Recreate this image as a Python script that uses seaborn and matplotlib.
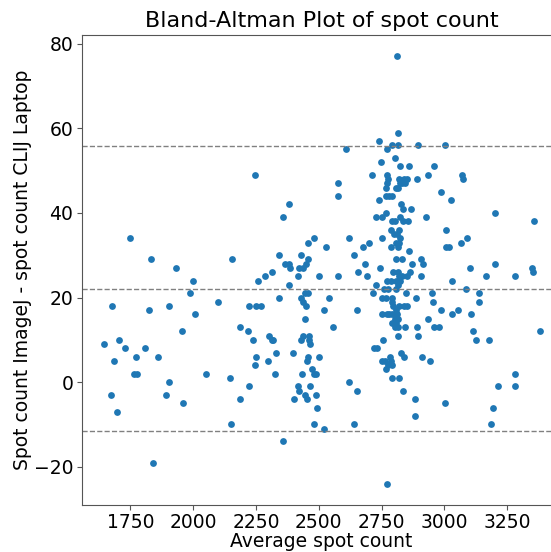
import numpy as np
import pandas as pd
import matplotlib
matplotlib.use('Agg')
from matplotlib import pyplot as plt
import seaborn as sns

# average spot count (x) and difference ImageJ - CLIJ (y)
avg_count = [
    1643, 1678, 1686, 1671, 1697, 1706, 1727, 1748, 1766, 1776, 1772, 1807,
    1826, 1831, 1838, 1859, 1893, 1903, 1903, 1933, 1955, 1958, 1986, 2001,
    2007, 2050, 2097, 2145, 2152, 2155, 2188, 2188,
    2219, 2222, 2222, 2238, 2247, 2247, 2251, 2251, 2259, 2268, 2284, 2299,
    2300, 2312, 2312, 2319, 2324, 2330, 2340, 2340, 2357, 2357, 2365, 2382,
    2382, 2383, 2386, 2398, 2400, 2419, 2419, 2420, 2423, 2431, 2431, 2431,
    2435, 2436, 2436, 2436, 2444, 2445, 2445, 2449, 2449, 2453, 2453, 2457,
    2457, 2458, 2458, 2462, 2462, 2465, 2465, 2471, 2479, 2480, 2481, 2489,
    2489, 2491, 2499, 2502, 2519, 2522, 2530, 2542,
    2555, 2576, 2576, 2578, 2610, 2621, 2621, 2640, 2642, 2653, 2653, 2658,
    2678, 2684, 2693,
    2701, 2711, 2716, 2720, 2727, 2727, 2731, 2740, 2741, 2742, 2749, 2752,
    2753, 2753, 2753, 2753, 2757, 2760, 2763, 2766, 2766, 2766, 2766, 2769,
    2771, 2773, 2773, 2773, 2773, 2773, 2777, 2777, 2777, 2779, 2779, 2783,
    2786, 2786, 2787, 2788, 2790, 2790, 2790, 2790, 2790, 2792, 2793, 2793,
    2793, 2795, 2795, 2799, 2802, 2802, 2803, 2804, 2806, 2806, 2806, 2806,
    2806, 2806, 2809, 2810, 2811, 2812, 2814, 2814, 2815, 2815, 2815, 2816,
    2816, 2816, 2816, 2819, 2819, 2819, 2819, 2819, 2819, 2822, 2822, 2822,
    2822, 2825, 2826, 2828, 2830, 2830, 2832, 2835, 2835, 2836, 2839, 2839,
    2839, 2843, 2845, 2849, 2850, 2852, 2852, 2856, 2859, 2862, 2861, 2869,
    2872, 2885, 2885, 2889, 2892, 2893, 2896, 2896,
    2905, 2907, 2910, 2914, 2926, 2933, 2934, 2944, 2949, 2955, 2958, 2958,
    2980, 2988, 2988, 3001, 3003, 3006, 3006, 3020, 3028, 3030, 3032, 3053,
    3065, 3072, 3076, 3087, 3091, 3103, 3105, 3113, 3124, 3136, 3136, 3164,
    3179, 3186, 3193, 3200, 3203, 3215, 3281, 3281, 3281, 3347, 3351, 3355,
    3380,
]
diff_count = [
    9, 18, 5, -3, -7, 10, 8, 34, 2, 2, 6, 8,
    17, 29, -19, 6, -3, 0, 18, 27, 12, -5, 21, 24,
    16, 2, 19, 1, -10, 29, 13, -4,
    12, -1, 18, 10, 49, 4, 6, 18, 24, 18, 25, 5,
    11, 26, 10, 10, 2, 7, 30, 20, 39, -14, 28, 42,
    23, 28, 27, 7, -4, 25, -1, 27, -2, 30, 20, 10,
    2, 27, 19, 11, 15, 21, -3, 28, 18, 5, -4, 21,
    6, 33, 29, 10, 11, 9, -1, 3, 2, -10, 34, 2,
    -3, -6, 25, 6, 17, -11, 32, 20,
    13, 25, 44, 47, 55, 34, 0, 30, -10, 17, -2, 26,
    32, 28, 25,
    33, 49, 21, 8, 23, 39, 8, 57, 43, 27, 52, 34,
    39, 20, 16, 5, 10, 22, 5, 40, 44, 20, 3, 46,
    55, 49, 47, 24, 16, -24, 48, 22, 4, 44, 16, 6,
    32, 24, 36, 5, 44, 20, 16, 14, 1, 56, 38, 19,
    4, 26, 18, 35, 15, 13, 53, 38, 46, 29, 24, 22,
    17, 14, 33, 77, 35, 16, 26, 11, 59, 56, 15, 46,
    32, 23, 13, 48, 36, 33, 25, 18, 1, 51, 39, 34,
    24, 47, 7, 42, 29, 25, 47, 38, -2, 41, 48, 18,
    6, 47, 13, 21, 25, 48, 18, 38, 51, 26, 31, 41,
    28, -4, -8, 20, 48, 13, 56, 11,
    25, 29, 6, 28, 39, 49, 15, 5, 21, 19, 51, 13,
    13, 45, 17, 56, -5, 36, 32, 32, 43, 24, 16, 17,
    33, 49, 48, 22, 34, 27, 16, 12, 10, 21, 19, 25,
    10, -10, -6, 40, 28, -1, 25, 2, -1, 27, 26, 38,
    12,
]

# mean difference and limits of agreement
mean_diff = 22.1
upper_loa = 55.8
lower_loa = -11.5

df = pd.DataFrame({'avg': avg_count, 'diff': diff_count})

plt.rcParams['font.size'] = 13.5
plt.rcParams['axes.edgecolor'] = '#555555'
plt.rcParams['xtick.color'] = '#555555'
plt.rcParams['ytick.color'] = '#555555'
plt.rcParams['xtick.labelcolor'] = 'black'
plt.rcParams['ytick.labelcolor'] = 'black'
fig = plt.figure(figsize=(5.51, 5.52), dpi=100)
ax = fig.add_axes([0.1483, 0.0851, 0.871, 0.8515])

sns.scatterplot(data=df, x='avg', y='diff', ax=ax, color='#1f77b4',
                s=24, linewidth=0)
ax.axhline(mean_diff, color='gray', linestyle='--', linewidth=1)
ax.axhline(upper_loa, color='gray', linestyle='--', linewidth=1)
ax.axhline(lower_loa, color='gray', linestyle='--', linewidth=1)

ax.set_xticks([1750, 2000, 2250, 2500, 2750, 3000, 3250])
ax.set_yticks([-20, 0, 20, 40, 60, 80])
ax.tick_params(axis='both', pad=2.5)
ax.set_title('Bland-Altman Plot of spot count', fontsize=16)
ax.set_xlabel('Average spot count', labelpad=0)
ax.set_ylabel('Spot count ImageJ - spot count CLIJ Laptop', labelpad=1)

fig.savefig('out.png', dpi=100)
